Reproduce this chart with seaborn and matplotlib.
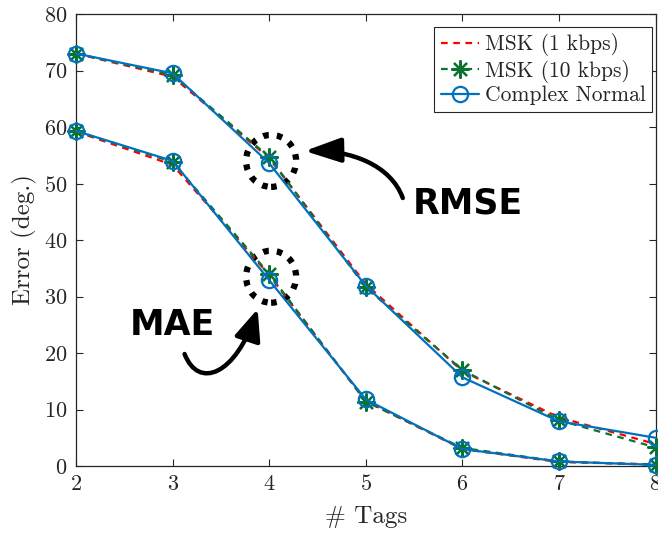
import numpy as np
import pandas as pd
import seaborn as sns
import matplotlib
matplotlib.use("Agg")
import matplotlib.pyplot as plt
from matplotlib.patches import Ellipse, FancyArrowPatch
from matplotlib.path import Path

tags = [2, 3, 4, 5, 6, 7, 8]
rmse_msk1 = [73.0, 68.9, 54.5, 32.2, 16.8, 8.6, 3.9]
rmse_msk10 = [73.0, 69.2, 54.7, 31.6, 17.0, 8.1, 3.3]
rmse_cn = [73.0, 69.5, 53.6, 31.9, 15.7, 7.9, 5.0]
mae_msk1 = [59.2, 53.3, 33.8, 11.5, 3.0, 0.7, 0.3]
mae_msk10 = [59.3, 53.8, 34.0, 11.4, 3.2, 0.8, 0.2]
mae_cn = [59.3, 54.0, 32.9, 11.8, 3.0, 0.8, 0.2]
labels = ["MSK (1 kbps)", "MSK (10 kbps)", "Complex Normal"]

sns.set_style("ticks")
plt.rcParams["font.family"] = ["cmr10", "DejaVu Serif"]
plt.rcParams["mathtext.fontset"] = "cm"
plt.rcParams["axes.formatter.use_mathtext"] = True

fig = plt.figure(figsize=(6.58, 5.36), dpi=100)
ax = fig.add_axes([76 / 658, 70 / 536, (655.5 - 76) / 658, (466 - 14) / 536])

red = "#ff0000"
green = "#0a7332"
blue = "#0072BD"
star = (8, 2, 0)

styles = [
    dict(color=red, linestyle=(0, (3, 2.5)), marker=None, lw=1.6),
    dict(color=green, linestyle=(0, (3, 2.5)), marker=star, lw=1.6, ms=13, mew=1.6),
    dict(color=blue, linestyle="-", marker="o", lw=1.6, ms=11, mew=1.6, mfc="none"),
]
series = [(rmse_msk1, mae_msk1), (rmse_msk10, mae_msk10), (rmse_cn, mae_cn)]

for (r, m), st, lab in zip(series, styles, labels):
    for i, vals in enumerate((r, m)):
        df = pd.DataFrame({"tags": tags, "err": vals})
        kw = dict(color=st["color"], linestyle=st["linestyle"], linewidth=st["lw"])
        if st["marker"] is not None:
            kw.update(marker=st["marker"], markersize=st["ms"], markeredgewidth=st["mew"],
                      markeredgecolor=st["color"])
            if "mfc" in st:
                kw["markerfacecolor"] = st["mfc"]
        sns.lineplot(data=df, x="tags", y="err", ax=ax, label=lab if i == 0 else None,
                     clip_on=False, zorder=3, **kw)

ax.set_xlim(2, 8)
ax.set_ylim(0, 80)
ax.set_xticks(tags)
ax.set_yticks(np.arange(0, 81, 10))
ax.tick_params(direction="in", length=5, width=0.8, labelsize=16, top=True, right=True,
               colors="#262626", labelcolor="#262626", pad=6)
for s in ax.spines.values():
    s.set_color("#262626")
    s.set_linewidth(0.9)
ax.set_xlabel("# Tags", fontsize=18, color="#262626", labelpad=8)
ax.set_ylabel("Error (deg.)", fontsize=18, color="#262626", labelpad=5)


def px2data(px, py):
    return (2 + (px - 75.5) / 96.5, (466 - py) / 5.65)


# dotted highlight circles
for cy in (54.0, 33.5):
    e = Ellipse((4.02, cy), width=50 / 96.5, height=52 / 5.65, fill=False,
                edgecolor="black", linewidth=4.5, linestyle=(0, (0.9, 1.3)), zorder=2)
    ax.add_patch(e)

# curved arrows
codes = [Path.MOVETO, Path.CURVE4, Path.CURVE4, Path.CURVE4]
rmse_arrow = [px2data(*p) for p in [(402, 198), (390, 165), (350, 150), (304, 151)]]
mae_arrow = [px2data(*p) for p in [(184, 354), (198, 390), (235, 375), (257, 309)]]
for pts, hl, hw in ((rmse_arrow, 2.2, 0.75), (mae_arrow, 1.9, 0.8)):
    arr = FancyArrowPatch(path=Path(pts, codes),
                          arrowstyle=f"-|>,head_length={hl},head_width={hw}",
                          mutation_scale=10, lw=3.2, color="black",
                          transform=ax.transData, zorder=4)
    ax.add_patch(arr)

tx, ty = px2data(467, 203)
ax.text(tx, ty, "RMSE", fontsize=25, fontweight="bold",
        family="DejaVu Sans", ha="center", va="center", color="black")
tx, ty = px2data(171.5, 325)
ax.text(tx, ty, "MAE", fontsize=25, fontweight="bold",
        family="DejaVu Sans", ha="center", va="center", color="black")

leg = ax.legend(loc="upper right", bbox_to_anchor=(652 / 658, 1 - 27 / 536),
                bbox_transform=fig.transFigure, borderaxespad=0, fontsize=15.5,
                frameon=True, fancybox=False, framealpha=1, edgecolor="#262626",
                handlelength=1.8, handletextpad=0.25, borderpad=0.3, labelspacing=0.15)
leg.get_frame().set_linewidth(0.8)

fig.savefig("out.png", dpi=100)
